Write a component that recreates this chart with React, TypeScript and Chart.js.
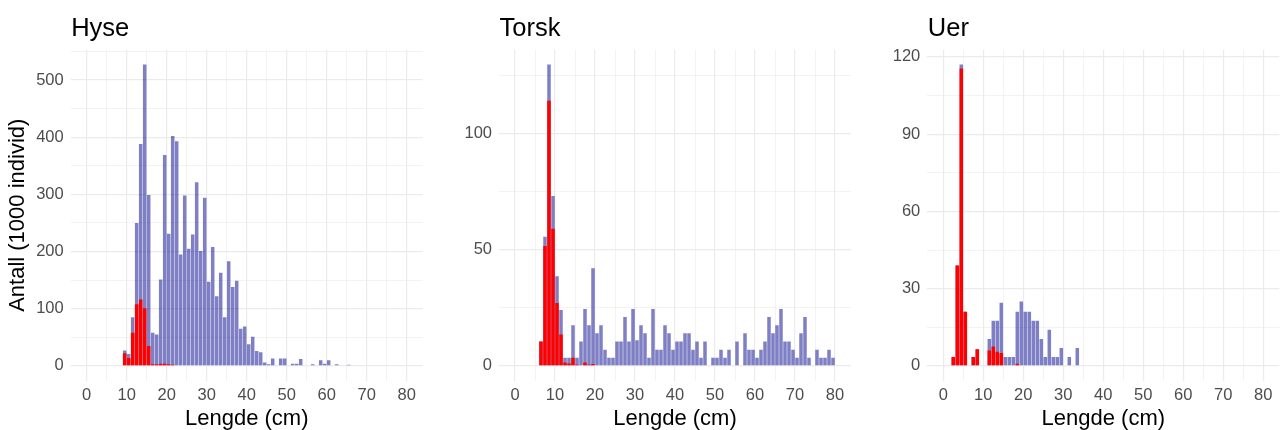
import React, { useEffect, useRef } from "react";
import { Chart, registerables } from "chart.js";

Chart.register(...registerables);

const FONT = "'Liberation Sans', Arial, sans-serif";

// Bin start lengths (cm), 1 cm bins 0..79
const binStarts: number[] = [
  0, 1, 2, 3, 4, 5, 6, 7, 8, 9, 10, 11, 12, 13, 14, 15, 16, 17, 18, 19,
  20, 21, 22, 23, 24, 25, 26, 27, 28, 29, 30, 31, 32, 33, 34, 35, 36, 37, 38, 39,
  40, 41, 42, 43, 44, 45, 46, 47, 48, 49, 50, 51, 52, 53, 54, 55, 56, 57, 58, 59,
  60, 61, 62, 63, 64, 65, 66, 67, 68, 69, 70, 71, 72, 73, 74, 75, 76, 77, 78, 79,
];

// Hyse (haddock) – all fish (blue) and small fish (red), 1000 individuals
const hyseTotal: number[] = [
  0, 0, 0, 0, 0, 0, 0, 0, 0, 27,
  21, 85, 250, 388, 527, 299, 58, 55, 151, 369,
  231, 402, 393, 195, 298, 205, 230, 321, 201, 294,
  147, 208, 122, 163, 85, 183, 138, 149, 65, 69,
  38, 51, 26, 24, 6, 3, 13, 0, 13, 13,
  0, 4, 4, 12, 0, 0, 3, 0, 10, 4,
  10, 0, 3, 0, 0, 2, 0, 0, 0, 0,
  0, 0, 0, 0, 0, 0, 0, 0, 0, 0,
];
const hyseSmall: number[] = [
  0, 0, 0, 0, 0, 0, 0, 0, 0, 22,
  14, 58, 108, 116, 101, 35, 3, 3, 4, 4,
  3, 2, 1, 1, 0, 0, 0, 0, 0, 0,
  0, 0, 0, 0, 0, 0, 0, 0, 0, 0,
  0, 0, 0, 0, 0, 0, 0, 0, 0, 0,
  0, 0, 0, 0, 0, 0, 0, 0, 0, 0,
  0, 0, 0, 0, 0, 0, 0, 0, 0, 0,
  0, 0, 0, 0, 0, 0, 0, 0, 0, 0,
];

// Torsk (cod)
const torskTotal: number[] = [
  0, 0, 0, 0, 0, 0, 10.5, 55.5, 129.5, 73,
  38.5, 24, 3.5, 3.5, 17.5, 3.5, 10.5, 24.5, 17.5, 42,
  14, 17.5, 7, 3.5, 3.5, 10.5, 10.5, 21, 10.5, 24.5,
  11, 17.5, 14, 3.5, 24.5, 7, 7, 17.5, 14, 7,
  10.5, 10.5, 14, 14, 7, 10.5, 3.5, 10.5, 0, 3.5,
  3.5, 7, 3.5, 7, 0, 10.5, 0, 14, 7, 7,
  3.5, 7, 10.5, 21, 14, 17.5, 24.5, 10.5, 10.5, 7,
  3.5, 14, 21, 3.5, 0, 7, 3.5, 3.5, 7, 3.5,
];
const torskSmall: number[] = [
  0, 0, 0, 0, 0, 0, 10.5, 51.5, 114, 59,
  27, 13.5, 1.5, 1, 3.5, 0.5, 0.3, 1.5, 0.5, 0.8,
  0.3, 0, 0, 0, 0, 0, 0, 0, 0, 0,
  0, 0, 0, 0, 0, 0, 0, 0, 0, 0,
  0, 0, 0, 0, 0, 0, 0, 0, 0, 0,
  0, 0, 0, 0, 0, 0, 0, 0, 0, 0,
  0, 0, 0, 0, 0, 0, 0, 0, 0, 0,
  0, 0, 0, 0, 0, 0, 0, 0, 0, 0,
];

// Uer (redfish)
const uerTotal: number[] = [
  0, 0, 3.5, 39, 117, 21, 0, 3.5, 6.5, 0,
  0, 10.5, 17.5, 17.5, 24.5, 3.5, 3.5, 3.5, 21, 25,
  21, 21, 17.5, 17.5, 10.5, 3.5, 14, 3.5, 3.5, 7,
  0, 3.5, 0, 7, 0, 0, 0, 0, 0, 0,
  0, 0, 0, 0, 0, 0, 0, 0, 0, 0,
  0, 0, 0, 0, 0, 0, 0, 0, 0, 0,
  0, 0, 0, 0, 0, 0, 0, 0, 0, 0,
  0, 0, 0, 0, 0, 0, 0, 0, 0, 0,
];
const uerSmall: number[] = [
  0, 0, 3.5, 39, 115.5, 21, 0, 3.5, 6.5, 0,
  0, 6, 7.5, 5.5, 5, 0.3, 0, 0.3, 0.8, 0,
  0, 0, 0, 0, 0, 0, 0, 0, 0, 0,
  0, 0, 0, 0, 0, 0, 0, 0, 0, 0,
  0, 0, 0, 0, 0, 0, 0, 0, 0, 0,
  0, 0, 0, 0, 0, 0, 0, 0, 0, 0,
  0, 0, 0, 0, 0, 0, 0, 0, 0, 0,
  0, 0, 0, 0, 0, 0, 0, 0, 0, 0,
];

// Tick labels
const xMajor: number[] = [0, 10, 20, 30, 40, 50, 60, 70, 80];
const xMinor: number[] = [5, 15, 25, 35, 45, 55, 65, 75];
const hyseYMajor: number[] = [0, 100, 200, 300, 400, 500];
const hyseYMinor: number[] = [50, 150, 250, 350, 450, 550];
const torskYMajor: number[] = [0, 50, 100];
const torskYMinor: number[] = [25, 75, 125];
const uerYMajor: number[] = [0, 30, 60, 90, 120];
const uerYMinor: number[] = [15, 45, 75, 105];

const titles: string[] = ["Hyse", "Torsk", "Uer"];
const xTitle = "Lengde (cm)";
const yTitle = "Antall (1000 individ)";

const BLUE = "rgba(0,0,139,0.5)";
const RED = "#FF0000";
const GRID = "#EBEBEB";
const CANVAS_H = 432;

type Panel = {
  title: string;
  total: number[];
  small: number[];
  yMajor: number[];
  yMinor: number[];
  left: number;
  width: number;
  axisW: number;
  padRight: number;
  showYTitle: boolean;
};

const panels: Panel[] = [
  { title: titles[0], total: hyseTotal, small: hyseSmall, yMajor: hyseYMajor, yMinor: hyseYMinor, left: 0, width: 430, axisW: 70.7, padRight: 7.3, showYTitle: true },
  { title: titles[1], total: torskTotal, small: torskSmall, yMajor: torskYMajor, yMinor: torskYMinor, left: 430, width: 430, axisW: 69, padRight: 9, showYTitle: false },
  { title: titles[2], total: uerTotal, small: uerSmall, yMajor: uerYMajor, yMinor: uerYMinor, left: 860, width: 422, axisW: 67.3, padRight: 2.7, showYTitle: false },
];

const panelTitlePlugin = {
  id: "panelTitle",
  afterDraw(chart: any, _args: any, opts: any) {
    const { ctx, chartArea } = chart;
    ctx.save();
    ctx.font = `25.5px ${FONT}`;
    ctx.fillStyle = "#000000";
    ctx.textAlign = "left";
    ctx.textBaseline = "alphabetic";
    ctx.fillText(opts.text, chartArea.left + 0.5, 35.5);
    ctx.restore();
  },
};

function buildConfig(p: Panel): any {
  const maxV = Math.max(...p.total, ...p.small);
  const yMax = maxV * 1.05;
  const yMin = -maxV * 0.05;
  const xMajorSet = new Set(xMajor);
  const yMajorSet = new Set(p.yMajor);
  const xTicks = [...xMajor, ...xMinor].sort((a, b) => a - b);
  const yTicks = [...p.yMajor, ...p.yMinor].sort((a, b) => a - b);
  const toPoints = (arr: number[]) =>
    binStarts.map((b, i) => ({ x: b + 0.5, y: arr[i] > 0 ? arr[i] : null }));

  return {
    type: "bar",
    data: {
      datasets: [
        { label: "small", data: toPoints(p.small), backgroundColor: RED, order: 0 },
        { label: "total", data: toPoints(p.total), backgroundColor: BLUE, order: 1 },
      ],
    },
    plugins: [panelTitlePlugin],
    options: {
      animation: false,
      responsive: false,
      maintainAspectRatio: false,
      layout: { padding: { top: 49.5, right: p.padRight, left: 0, bottom: 0 } },
      datasets: { bar: { grouped: false, barPercentage: 0.88, categoryPercentage: 1, borderWidth: 0 } },
      plugins: {
        legend: { display: false },
        tooltip: { enabled: false },
        panelTitle: { text: p.title },
      },
      scales: {
        x: {
          type: "linear",
          min: -4,
          max: 84,
          offset: false,
          afterBuildTicks: (ax: any) => {
            ax.ticks = xTicks.map((v) => ({ value: v }));
          },
          afterFit: (s: any) => {
            s.height = CANVAS_H - 381;
          },
          grid: {
            offset: false,
            drawTicks: false,
            color: GRID,
            lineWidth: (c: any) => (c.tick && xMajorSet.has(c.tick.value) ? 1.2 : 0.6),
          },
          border: { display: false },
          ticks: {
            autoSkip: false,
            maxRotation: 0,
            padding: 5,
            color: "#4D4D4D",
            font: { size: 16.5, family: FONT },
            callback: (v: any) => (xMajorSet.has(v) ? String(v) : ""),
          },
          title: {
            display: true,
            text: xTitle,
            color: "#000000",
            font: { size: 22, family: FONT },
            padding: { top: 0, bottom: 0 },
          },
        },
        y: {
          type: "linear",
          min: yMin,
          max: yMax,
          afterBuildTicks: (ax: any) => {
            ax.ticks = yTicks.map((v) => ({ value: v }));
          },
          afterFit: (s: any) => {
            s.width = p.axisW;
          },
          grid: {
            drawTicks: false,
            color: GRID,
            lineWidth: (c: any) => (c.tick && yMajorSet.has(c.tick.value) ? 1.2 : 0.6),
          },
          border: { display: false },
          ticks: {
            autoSkip: false,
            padding: 7,
            color: "#4D4D4D",
            font: { size: 16.5, family: FONT },
            callback: (v: any) => (yMajorSet.has(v) ? String(v) : ""),
          },
          title: {
            display: p.showYTitle,
            text: yTitle,
            color: "#000000",
            font: { size: 22, family: FONT },
            padding: { top: 5, bottom: 0 },
          },
        },
      },
    },
  };
}

function PanelChart({ p }: { p: Panel }) {
  const ref = useRef<HTMLCanvasElement | null>(null);
  useEffect(() => {
    if (!ref.current) return;
    const chart = new Chart(ref.current, buildConfig(p));
    return () => chart.destroy();
  }, [p]);
  return (
    <canvas
      ref={ref}
      width={p.width}
      height={CANVAS_H}
      style={{ position: "absolute", left: p.left, top: 0, width: p.width, height: CANVAS_H, display: "block" }}
    />
  );
}

export default function App() {
  return (
    <div style={{ position: "absolute", left: 0, top: 0, width: 1282, height: 430, background: "#FFFFFF", overflow: "hidden" }}>
      {panels.map((p) => (
        <PanelChart key={p.title} p={p} />
      ))}
    </div>
  );
}
